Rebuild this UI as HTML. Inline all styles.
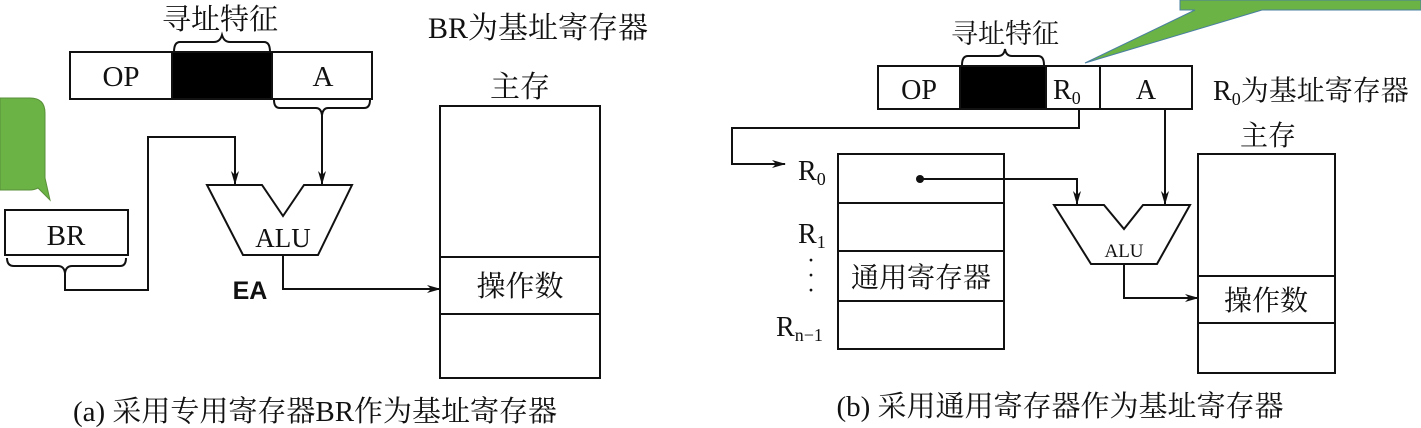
<!DOCTYPE html>
<html><head><meta charset="utf-8"><style>
html,body{margin:0;padding:0;background:#fff;}
svg{display:block;}
text{font-family:"Liberation Serif","Noto Serif CJK SC",serif;fill:#111;}
</style></head><body>
<svg width="1421" height="428" viewBox="0 0 1421 428" xmlns="http://www.w3.org/2000/svg">
<defs>
<marker id="ar" markerWidth="14" markerHeight="8" refX="13" refY="4" orient="auto" markerUnits="userSpaceOnUse">
<path d="M0,0 L14,4 L0,8 L4,4 Z" fill="#111"/></marker>
</defs>
<g stroke="#111" stroke-width="2" fill="none">
<path d="M0,98 L30,98 Q45,98 45,113 L45,178 L50,200 L38,188 Q34,190 30,190 L0,190 Z" fill="#6ab344" stroke="#5a8f3a" stroke-width="1"/>
<path d="M1180,0 L1421,0 L1421,10 L1262,10 L1085,63 L1195,10 L1180,10 Z" fill="#6ab344" stroke="#4a7fa0" stroke-width="1"/>

<rect x="70" y="52" width="302" height="47"/>
<rect x="172" y="52" width="100" height="47" fill="#000"/>
<line x1="272" y1="52" x2="272" y2="99"/>
<path d="M174,52 Q174,42 180,42 L214,42 Q220,42 222,35 Q224,42 230,42 L264,42 Q270,42 270,52"/>
<path d="M274,100 Q274,108 280,108 L316,108 Q321,108 322,115 Q323,108 328,108 L364,108 Q370,108 370,100"/>
<line x1="322" y1="115" x2="322" y2="184" marker-end="url(#ar)"/>
<rect x="5" y="210" width="123" height="45"/>
<path d="M7,258 Q7,266 14,266 L58,266 Q64,266 65,273 Q66,266 72,266 L120,266 Q126,266 126,258"/>
<polyline points="65,273 65,290 148,290 148,137 235,137 235,184" marker-end="url(#ar)"/>
<polygon points="207,185 262,185 283,216 304,185 352,185 318,255 243,255"/>
<polyline points="283,255 283,289 440,289" marker-end="url(#ar)"/>
<rect x="440" y="106" width="160" height="272"/>
<line x1="440" y1="257" x2="600" y2="257"/>
<line x1="440" y1="314" x2="600" y2="314"/>

<rect x="878" y="66" width="314" height="43"/>
<rect x="960" y="66" width="86" height="43" fill="#000"/>
<line x1="1100" y1="66" x2="1100" y2="109"/>
<path d="M962,65 Q962,56 968,56 L998,56 Q1004,56 1005,49 Q1006,56 1012,56 L1038,56 Q1044,56 1044,65"/>
<polyline points="1079,109 1079,128 732,128 732,164 785,164" marker-end="url(#ar)"/>
<line x1="1165" y1="109" x2="1165" y2="204" marker-end="url(#ar)"/>
<rect x="838" y="154" width="166" height="195"/>
<line x1="838" y1="203" x2="1004" y2="203"/>
<line x1="838" y1="251" x2="1004" y2="251"/>
<line x1="838" y1="301" x2="1004" y2="301"/>
<polyline points="920,179 1077,179 1077,204" marker-end="url(#ar)"/>
<polygon points="1054,205 1104,205 1124,229 1143,205 1190,205 1157,264 1091,264"/>
<polyline points="1124,264 1124,298 1198,298" marker-end="url(#ar)"/>
<rect x="1198" y="154" width="137" height="219"/>
<line x1="1198" y1="276" x2="1335" y2="276"/>
<line x1="1198" y1="323" x2="1335" y2="323"/>
</g>
<circle cx="920" cy="179" r="4" fill="#111"/>

<text x="220" y="29" font-size="29" text-anchor="middle">寻址特征</text>
<text x="538" y="38" font-size="30" text-anchor="middle">BR为基址寄存器</text>
<text x="121" y="86" font-size="29" text-anchor="middle">OP</text>
<text x="323" y="86" font-size="29" text-anchor="middle">A</text>
<text x="520" y="97" font-size="30" text-anchor="middle">主存</text>
<text x="66" y="245" font-size="29" text-anchor="middle">BR</text>
<text x="283" y="247" font-size="27" text-anchor="middle">ALU</text>
<text x="250" y="299" font-size="25" font-weight="bold" text-anchor="middle" style="font-family:'Liberation Sans',sans-serif">EA</text>
<text x="520" y="296" font-size="29" text-anchor="middle">操作数</text>
<text x="315" y="421" font-size="29" text-anchor="middle">(a) 采用专用寄存器BR作为基址寄存器</text>

<text x="1005" y="43" font-size="27" text-anchor="middle">寻址特征</text>
<text x="919" y="99" font-size="28" text-anchor="middle">OP</text>
<text x="1053" y="99" font-size="28">R<tspan font-size="18" dy="5">0</tspan></text>
<text x="1146" y="99" font-size="28" text-anchor="middle">A</text>
<text x="1213" y="100" font-size="28">R<tspan font-size="18" dy="5">0</tspan><tspan dy="-5">为基址寄存器</tspan></text>
<text x="1268" y="145" font-size="28" text-anchor="middle">主存</text>
<text x="798" y="180" font-size="28">R<tspan font-size="18" dy="5">0</tspan></text>
<text x="798" y="243" font-size="28">R<tspan font-size="18" dy="5">1</tspan></text>
<text x="807" y="268" font-size="24">·</text>
<text x="807" y="283" font-size="24">·</text>
<text x="807" y="298" font-size="24">·</text>
<text x="776" y="336" font-size="28">R<tspan font-size="18" dy="5">n−1</tspan></text>
<text x="921" y="287" font-size="28" text-anchor="middle">通用寄存器</text>
<text x="1124" y="257" font-size="19" text-anchor="middle">ALU</text>
<text x="1266" y="310" font-size="28" text-anchor="middle">操作数</text>
<text x="1060" y="416" font-size="29" text-anchor="middle">(b) 采用通用寄存器作为基址寄存器</text>
</svg>
</body></html>
